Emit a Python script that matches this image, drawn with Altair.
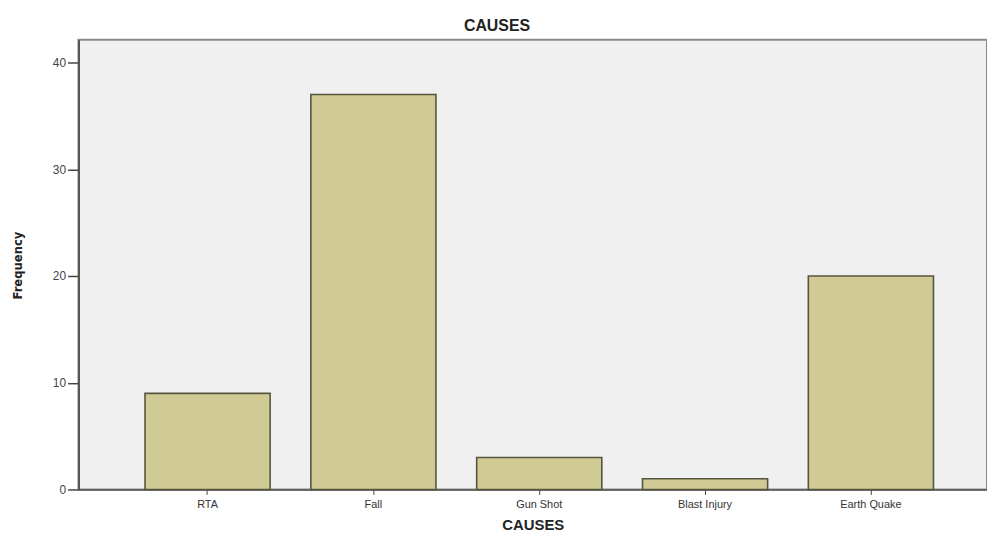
import altair as alt
import pandas as pd

causes = ["RTA", "Fall", "Gun Shot", "Blast Injury", "Earth Quake"]
frequency = [9, 37, 3, 1, 20]
y_ticks = [0, 10, 20, 30, 40]

df = pd.DataFrame({"cause": causes, "freq": frequency})

FONT = "Liberation Sans"

chart = alt.Chart(df).mark_bar(
    color="#d0cb94", stroke="#55553f", strokeWidth=1.6
).encode(
    x=alt.X("cause:N", sort=causes, title="CAUSES",
            scale=alt.Scale(paddingInner=0.2455, paddingOuter=0.362, align=0.554),
            axis=alt.Axis(labelAngle=0, labelFontSize=11, labelColor="#333",
                          labelFont=FONT, tickColor="#444", tickSize=5,
                          domainColor="#555", domainWidth=1.5, labelPadding=4,
                          titleFont=FONT, titleFontSize=15, titleFontWeight="bold",
                          titleColor="#222", titlePadding=8)),
    y=alt.Y("freq:Q", title="Frequency",
            scale=alt.Scale(domain=[0, 42.14], nice=False, zero=True),
            axis=alt.Axis(values=y_ticks, grid=False, labelFontSize=12,
                          labelColor="#444", labelFont=FONT, tickColor="#444",
                          tickSize=11, tickWidth=1.5, domainColor="#555",
                          domainWidth=2, labelPadding=2,
                          titleFont="DejaVu Sans Condensed", titleFontSize=13,
                          titleFontWeight="bold", titleColor="#222",
                          titleX=-61, titleY=227, titleBaseline="middle",
                          titleAngle=-90)),
).properties(
    width=915, height=453,
    background="white",
    title=alt.TitleParams("CAUSES", font=FONT, fontSize=16, fontWeight="bold",
                          color="#222", dx=-36, offset=6),
    autosize=alt.AutoSizeParams(type="none"),
    padding={"left": 71, "top": 30, "right": 0, "bottom": 45},
).configure_view(
    fill="#f0f0f0", stroke="#8a8a8a", strokeWidth=2
)

chart.save("out.html", embed_options={"renderer": "svg", "actions": False})
